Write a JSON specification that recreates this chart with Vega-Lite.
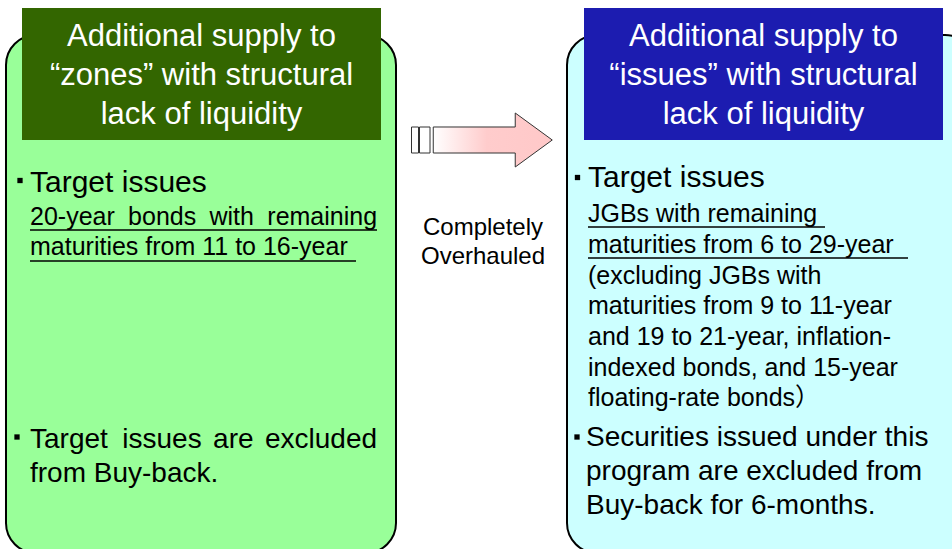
{
  "$schema": "https://vega.github.io/schema/vega-lite/v6.json",
  "width": 952,
  "height": 549,
  "autosize": {"type": "none"},
  "padding": 0,
  "background": "#ffffff",
  "view": {"stroke": null},
  "config": {"font": "Liberation Sans, Noto Sans CJK JP"},
  "datasets": {
    "boxes": [
      {"panel": "zones", "x0": 6, "x1": 396, "y0": 35, "y1": 553},
      {"panel": "issues", "x0": 567, "x1": 975, "y0": 35, "y1": 553}
    ],
    "headers": [
      {"panel": "zones", "x0": 22, "x1": 381, "y0": 8, "y1": 140},
      {"panel": "issues", "x0": 584, "x1": 943, "y0": 8, "y1": 140}
    ],
    "headerText": [
      {"x": 201.5, "y": 46, "text": "Additional supply to"},
      {"x": 201.5, "y": 85, "text": "“zones” with structural"},
      {"x": 201.5, "y": 124, "text": "lack of liquidity"},
      {"x": 763.5, "y": 46, "text": "Additional supply to"},
      {"x": 763.5, "y": 85, "text": "“issues” with structural"},
      {"x": 763.5, "y": 124, "text": "lack of liquidity"}
    ],
    "bodyText": [
      {"role": "head", "x": 30, "y": 192, "text": "Target issues"},
      {"role": "head", "x": 588, "y": 187, "text": "Target issues"},
      {"role": "detail", "x": 30, "y": 225, "text": "20-year"},
      {"role": "detail", "x": 128.1, "y": 225, "text": "bonds"},
      {"role": "detail", "x": 209.5, "y": 225, "text": "with"},
      {"role": "detail", "x": 267.3, "y": 225, "text": "remaining"},
      {"role": "detail", "x": 30, "y": 255, "text": "maturities from 11 to 16-year"},
      {"role": "detail", "x": 588, "y": 222, "text": "JGBs with remaining "},
      {"role": "detail", "x": 588, "y": 253, "text": "maturities from 6 to 29-year "},
      {"role": "detail", "x": 588, "y": 284, "text": "(excluding JGBs with"},
      {"role": "detail", "x": 588, "y": 314, "text": "maturities from 9 to 11-year"},
      {"role": "detail", "x": 588, "y": 345, "text": "and 19 to 21-year, inflation-"},
      {"role": "detail", "x": 588, "y": 376, "text": "indexed bonds, and 15-year"},
      {"role": "detail", "x": 588, "y": 406, "text": "floating-rate bonds）"},
      {"role": "note", "x": 30, "y": 448, "text": "Target"},
      {"role": "note", "x": 122.3, "y": 448, "text": "issues"},
      {"role": "note", "x": 213.1, "y": 448, "text": "are"},
      {"role": "note", "x": 265, "y": 448, "text": "excluded"},
      {"role": "note", "x": 30, "y": 482, "text": "from Buy-back."},
      {"role": "note", "x": 586, "y": 446, "text": "Securities issued under this"},
      {"role": "note", "x": 586, "y": 480, "text": "program are excluded from"},
      {"role": "note", "x": 586, "y": 514, "text": "Buy-back for 6-months."}
    ],
    "centerText": [
      {"x": 483, "y": 235, "text": "Completely"},
      {"x": 483, "y": 264, "text": "Overhauled"}
    ],
    "underlines": [
      {"x0": 30, "x1": 377, "y": 230},
      {"x0": 30, "x1": 356, "y": 261},
      {"x0": 588, "x1": 825, "y": 227},
      {"x0": 588, "x1": 908, "y": 258}
    ],
    "bullets": [
      {"x": 20, "y": 180.5},
      {"x": 17, "y": 437},
      {"x": 577.5, "y": 177.5},
      {"x": 577, "y": 437}
    ],
    "arrow": [
      {"x": 492.75, "y": 140}
    ],
    "stubs": [
      {"x0": 411.5, "x1": 418.5, "y0": 127, "y1": 153},
      {"x0": 419.5, "x1": 430, "y0": 127, "y1": 153}
    ]
  },
  "resolve": {"scale": {"fill": "independent"}},
  "layer": [
    {
      "data": {"name": "boxes"},
      "mark": {"type": "rect", "cornerRadius": 30, "stroke": "#000000", "strokeWidth": 2},
      "encoding": {
        "x": {"field": "x0", "type": "quantitative", "scale": {"domain": [0, 952], "nice": false, "zero": false}, "axis": null},
        "x2": {"field": "x1"},
        "y": {"field": "y0", "type": "quantitative", "scale": {"domain": [0, 549], "reverse": true, "nice": false, "zero": false}, "axis": null},
        "y2": {"field": "y1"},
        "fill": {"field": "panel", "type": "nominal", "scale": {"domain": ["zones", "issues"], "range": ["#99ff99", "#ccffff"]}, "legend": null}
      }
    },
    {
      "data": {"name": "headers"},
      "mark": {"type": "rect"},
      "encoding": {
        "x": {"field": "x0", "type": "quantitative", "scale": {"domain": [0, 952], "nice": false, "zero": false}, "axis": null},
        "x2": {"field": "x1"},
        "y": {"field": "y0", "type": "quantitative", "scale": {"domain": [0, 549], "reverse": true, "nice": false, "zero": false}, "axis": null},
        "y2": {"field": "y1"},
        "fill": {"field": "panel", "type": "nominal", "scale": {"domain": ["zones", "issues"], "range": ["#336600", "#1c1cb0"]}, "legend": null}
      }
    },
    {
      "data": {"name": "stubs"},
      "mark": {"type": "rect", "fill": "#ffffff", "stroke": "#333333", "strokeWidth": 1},
      "encoding": {
        "x": {"field": "x0", "type": "quantitative", "scale": {"domain": [0, 952], "nice": false, "zero": false}, "axis": null},
        "x2": {"field": "x1"},
        "y": {"field": "y0", "type": "quantitative", "scale": {"domain": [0, 549], "reverse": true, "nice": false, "zero": false}, "axis": null},
        "y2": {"field": "y1"}
      }
    },
    {
      "data": {"name": "arrow"},
      "mark": {
        "type": "point",
        "shape": "M-1,-0.2185L0.378,-0.2185L0.378,-0.4538L1,0L0.378,0.4538L0.378,0.2185L-1,0.2185Z",
        "size": 14161,
        "filled": true,
        "opacity": 1,
        "fillOpacity": 1,
        "stroke": "#333333",
        "strokeWidth": 1,
        "fill": {"gradient": "linear", "x1": 0, "y1": 0, "x2": 1, "y2": 0, "stops": [{"offset": 0, "color": "#ffffff"}, {"offset": 0.45, "color": "#ffcccc"}, {"offset": 1, "color": "#ffc8c8"}]}
      },
      "encoding": {
        "x": {"field": "x", "type": "quantitative", "scale": {"domain": [0, 952], "nice": false, "zero": false}, "axis": null},
        "y": {"field": "y", "type": "quantitative", "scale": {"domain": [0, 549], "reverse": true, "nice": false, "zero": false}, "axis": null}
      }
    },
    {
      "data": {"name": "underlines"},
      "mark": {"type": "rule", "stroke": "#000000", "strokeWidth": 1.6},
      "encoding": {
        "x": {"field": "x0", "type": "quantitative", "scale": {"domain": [0, 952], "nice": false, "zero": false}, "axis": null},
        "x2": {"field": "x1"},
        "y": {"field": "y", "type": "quantitative", "scale": {"domain": [0, 549], "reverse": true, "nice": false, "zero": false}, "axis": null}
      }
    },
    {
      "data": {"name": "bullets"},
      "mark": {"type": "point", "shape": "square", "filled": true, "fill": "#000000", "size": 28, "opacity": 1, "strokeWidth": 0},
      "encoding": {
        "x": {"field": "x", "type": "quantitative", "scale": {"domain": [0, 952], "nice": false, "zero": false}, "axis": null},
        "y": {"field": "y", "type": "quantitative", "scale": {"domain": [0, 549], "reverse": true, "nice": false, "zero": false}, "axis": null}
      }
    },
    {
      "data": {"name": "headerText"},
      "mark": {"type": "text", "align": "center", "baseline": "alphabetic", "fontSize": 31, "fill": "#ffffff", "font": "Liberation Sans"},
      "encoding": {
        "x": {"field": "x", "type": "quantitative", "scale": {"domain": [0, 952], "nice": false, "zero": false}, "axis": null},
        "y": {"field": "y", "type": "quantitative", "scale": {"domain": [0, 549], "reverse": true, "nice": false, "zero": false}, "axis": null},
        "text": {"field": "text"}
      }
    },
    {
      "data": {"name": "bodyText"},
      "transform": [{"filter": "datum.role === 'head'"}],
      "mark": {"type": "text", "align": "left", "baseline": "alphabetic", "fontSize": 30, "fill": "#000000", "font": "Liberation Sans"},
      "encoding": {
        "x": {"field": "x", "type": "quantitative", "scale": {"domain": [0, 952], "nice": false, "zero": false}, "axis": null},
        "y": {"field": "y", "type": "quantitative", "scale": {"domain": [0, 549], "reverse": true, "nice": false, "zero": false}, "axis": null},
        "text": {"field": "text"}
      }
    },
    {
      "data": {"name": "bodyText"},
      "transform": [{"filter": "datum.role === 'detail'"}],
      "mark": {"type": "text", "align": "left", "baseline": "alphabetic", "fontSize": 25, "fill": "#000000", "font": "Liberation Sans, Noto Sans CJK JP"},
      "encoding": {
        "x": {"field": "x", "type": "quantitative", "scale": {"domain": [0, 952], "nice": false, "zero": false}, "axis": null},
        "y": {"field": "y", "type": "quantitative", "scale": {"domain": [0, 549], "reverse": true, "nice": false, "zero": false}, "axis": null},
        "text": {"field": "text"}
      }
    },
    {
      "data": {"name": "bodyText"},
      "transform": [{"filter": "datum.role === 'note'"}],
      "mark": {"type": "text", "align": "left", "baseline": "alphabetic", "fontSize": 28, "fill": "#000000", "font": "Liberation Sans"},
      "encoding": {
        "x": {"field": "x", "type": "quantitative", "scale": {"domain": [0, 952], "nice": false, "zero": false}, "axis": null},
        "y": {"field": "y", "type": "quantitative", "scale": {"domain": [0, 549], "reverse": true, "nice": false, "zero": false}, "axis": null},
        "text": {"field": "text"}
      }
    },
    {
      "data": {"name": "centerText"},
      "mark": {"type": "text", "align": "center", "baseline": "alphabetic", "fontSize": 24, "fill": "#000000", "font": "Liberation Sans"},
      "encoding": {
        "x": {"field": "x", "type": "quantitative", "scale": {"domain": [0, 952], "nice": false, "zero": false}, "axis": null},
        "y": {"field": "y", "type": "quantitative", "scale": {"domain": [0, 549], "reverse": true, "nice": false, "zero": false}, "axis": null},
        "text": {"field": "text"}
      }
    }
  ]
}
